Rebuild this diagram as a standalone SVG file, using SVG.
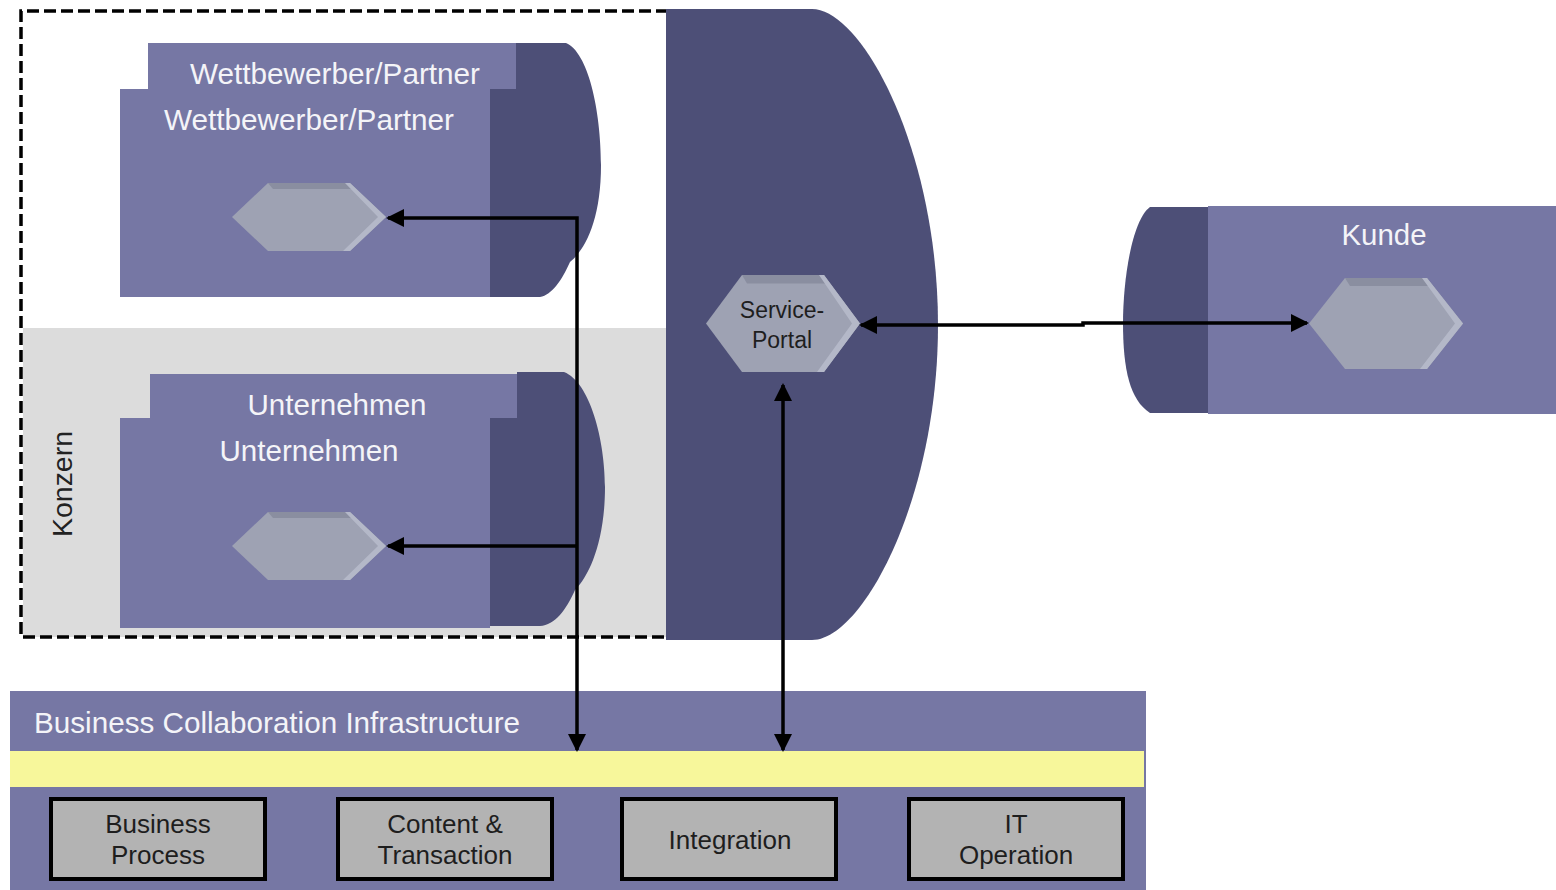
<svg xmlns="http://www.w3.org/2000/svg" width="1556" height="890" viewBox="0 0 1556 890">
<style>
.body{fill:#7677a4}
.dark{fill:#4d4f77}
.title{font-family:"Liberation Sans",Arial,sans-serif;font-size:29px;fill:#f4f4f8;text-anchor:middle}
.lbl{font-family:"Liberation Sans",Arial,sans-serif;font-size:26px;fill:#1e1e1e;text-anchor:middle}
.box{fill:#b3b3b3;stroke:#000;stroke-width:4}
.conn{fill:none;stroke:#000;stroke-width:3.5}
</style>
<defs>
<marker id="ah" markerUnits="userSpaceOnUse" markerWidth="18" markerHeight="18" viewBox="0 0 18 18" refX="16" refY="9" orient="auto-start-reverse">
<path d="M0,0 L18,9 L0,18 Z" fill="#000"/>
</marker>
<g id="hex">
<polygon points="-77,0 -41,-34 41,-34 77,0 41,34 -41,34" fill="#9ea2b3"/>
<polygon points="-41,-34 41,-34 43,-28 -36,-28" fill="#8a8ea0"/>
<polygon points="36,-34 41,-34 77,0 41,34 34,34 69,0" fill="#b4b8c8"/>
</g>
</defs>
<rect width="1556" height="890" fill="#fff"/>

<g id="konzern-area">
<rect x="23" y="328" width="650" height="309" fill="#dcdcdc"/>
<path d="M668,11 L21,11 L21,637 L668,637" fill="none" stroke="#000" stroke-width="3.5" stroke-dasharray="12,5"/>
<text x="72" y="484" transform="rotate(-90 72 484)" class="lbl" style="font-size:28px;fill:#222" textLength="106" lengthAdjust="spacingAndGlyphs">Konzern</text>
</g>

<g id="service-portal-area">
<path class="dark" d="M666,9 L812,9 C862,9 938,150 938,325 C938,500 862,640 812,640 L666,640 Z"/>
</g>

<g id="node-wettbewerber">
<path class="dark" d="M516,43 L566,43 C588,52 601,110 601,165 C601,220 585,250 570,262 C562,280 552,295 540,297 L490,297 L490,89 L516,89 Z"/>
<rect class="body" x="148" y="43" width="368" height="46"/>
<rect class="body" x="120" y="89" width="370" height="208"/>
<text class="title" x="335" y="84" textLength="290" lengthAdjust="spacingAndGlyphs">Wettbewerber/Partner</text>
<text class="title" x="309" y="130" textLength="290" lengthAdjust="spacingAndGlyphs">Wettbewerber/Partner</text>
<use href="#hex" transform="translate(309,217)"/>
</g>

<g id="node-unternehmen">
<path class="dark" d="M517,372 L564,372 C590,382 605,440 605,487 C605,540 590,575 575,590 C566,610 555,625 540,626 L490,626 L490,418 L517,418 Z"/>
<rect class="body" x="150" y="374" width="367" height="44"/>
<rect class="body" x="120" y="418" width="370" height="210"/>
<text class="title" x="337" y="415" textLength="179" lengthAdjust="spacingAndGlyphs">Unternehmen</text>
<text class="title" x="309" y="461" textLength="179" lengthAdjust="spacingAndGlyphs">Unternehmen</text>
<use href="#hex" transform="translate(309,546)"/>
</g>

<g id="node-service-portal">
<use href="#hex" transform="translate(783,323.5) scale(1,1.43)"/>
<text class="lbl" x="782" y="318" style="font-size:23px">Service-</text>
<text class="lbl" x="782" y="348" style="font-size:23px">Portal</text>
</g>

<g id="node-kunde">
<path class="dark" d="M1208,207 L1150,207 C1132,220 1123,280 1123,323 C1123,370 1130,400 1150,413 L1208,413 Z"/>
<rect class="body" x="1208" y="206" width="348" height="208"/>
<text class="title" x="1384" y="245" textLength="85" lengthAdjust="spacingAndGlyphs">Kunde</text>
<use href="#hex" transform="translate(1386,323.5) scale(1,1.34)"/>
</g>

<g id="node-bci">
<rect class="body" x="10" y="691" width="1136" height="199"/>
<rect x="10" y="751" width="1134" height="36" fill="#f7f79b"/>
<text class="title" x="34" y="733" style="text-anchor:start" textLength="486" lengthAdjust="spacingAndGlyphs">Business Collaboration Infrastructure</text>
</g>

<g id="node-business-process">
<rect class="box" x="51" y="799" width="214" height="80"/>
<text class="lbl" x="158" y="833">Business</text>
<text class="lbl" x="158" y="864">Process</text>
</g>
<g id="node-content-transaction">
<rect class="box" x="338" y="799" width="214" height="80"/>
<text class="lbl" x="445" y="833">Content &amp;</text>
<text class="lbl" x="445" y="864">Transaction</text>
</g>
<g id="node-integration">
<rect class="box" x="622" y="799" width="214" height="80"/>
<text class="lbl" x="730" y="849">Integration</text>
</g>
<g id="node-it-operation">
<rect class="box" x="909" y="799" width="214" height="80"/>
<text class="lbl" x="1016" y="833">IT</text>
<text class="lbl" x="1016" y="864">Operation</text>
</g>

<g id="connectors">
<path class="conn" d="M577,750 L577,218 L388,218" marker-start="url(#ah)" marker-end="url(#ah)"/>
<path class="conn" d="M577,546 L388,546" marker-end="url(#ah)"/>
<path class="conn" d="M783,750 L783,385" marker-start="url(#ah)" marker-end="url(#ah)"/>
<path class="conn" d="M861,325 L1083,325 L1083,323 L1307,323" marker-start="url(#ah)" marker-end="url(#ah)"/>
</g>
</svg>
